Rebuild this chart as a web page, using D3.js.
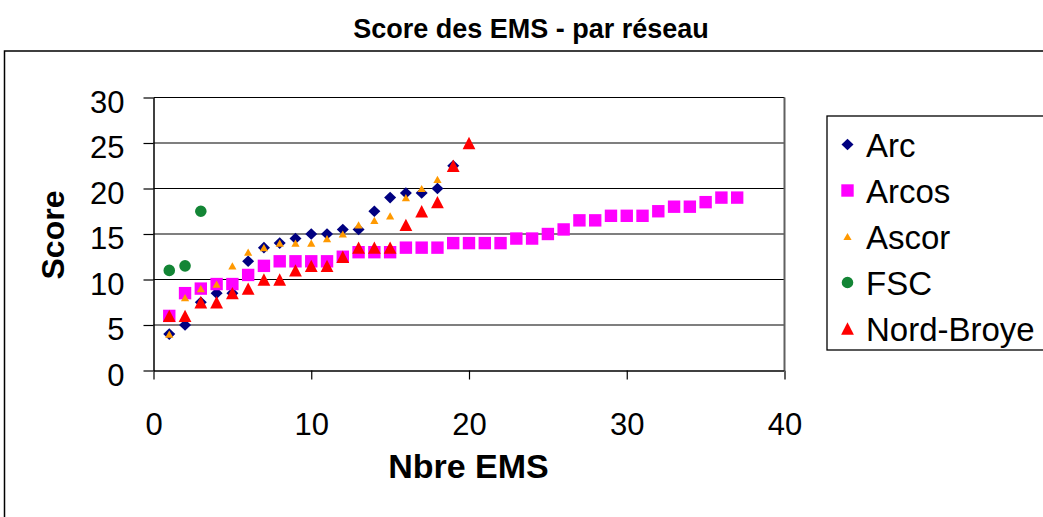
<!DOCTYPE html>
<html><head><meta charset="utf-8">
<script src="https://cdn.jsdelivr.net/npm/d3@7"></script>
<style>body{margin:0;background:#fff;} svg{display:block;}</style>
</head><body>
<svg id="c" width="1043" height="517"></svg>
<script>
// ---- data ----
const title = "Score des EMS - par réseau";
const xTitle = "Nbre EMS";
const yTitle = "Score";
const seriesNames = ["Arc", "Arcos", "Ascor", "FSC", "Nord-Broye"];
const arcScores = [4, 5, 7.5, 8.5, 8.5, 12, 13.5, 14, 14.5, 15, 15, 15.5, 15.5, 17.5, 19, 19.5, 19.5, 20, 22.5];
const arcosScores = [6, 8.5, 9, 9.5, 9.5, 10.5, 11.5, 12, 12, 12, 12, 12.5, 13, 13, 13, 13.5, 13.5, 13.5, 14, 14, 14, 14, 14.5, 14.5, 15, 15.5, 16.5, 16.5, 17, 17, 17, 17.5, 18, 18, 18.5, 19, 19];
const ascorScores = [4, 8, 9, 9.5, 11.5, 13, 13.5, 14, 14, 14, 14.5, 15, 16, 16.5, 17, 19, 20, 21];
const fscScores = [11, 11.5, 17.5];
const nordBroyeScores = [6, 6, 7.5, 7.5, 8.5, 9, 10, 10, 11, 11.5, 11.5, 12.5, 13.5, 13.5, 13.5, 16, 17.5, 18.5, 22.5, 25];
const xTicks = [0, 10, 20, 30, 40];
const yTicks = [0, 5, 10, 15, 20, 25, 30];

// ---- styles ----
const colors = ["#000080", "#FF00FF", "#FF9900", "#138535", "#FF0000"];
const shapes = ["diamond", "square", "smalltri", "circle", "tri"];
const FONT = "'Liberation Sans', Arial, sans-serif";

const seriesData = [arcScores, arcosScores, ascorScores, fscScores, nordBroyeScores];

function markerPath(shape) {
  switch (shape) {
    case "diamond": return "M0,-5.8L6,0L0,5.8L-6,0Z";
    case "square": return "M-6.2,-6.2H6.2V6.2H-6.2Z";
    case "smalltri": return "M0,-3.6L4.1,3.6H-4.1Z";
    case "tri": return "M0,-6.2L6.4,6.2H-6.4Z";
    case "circle": return d3.arc()({innerRadius: 0, outerRadius: 5.8, startAngle: 0, endAngle: 2 * Math.PI});
  }
}

const svg = d3.select("#c");

// outer chart border
svg.append("rect").attr("x", 4.5).attr("y", 51).attr("width", 1060).attr("height", 520)
  .attr("fill", "#fff").attr("stroke", "#000").attr("stroke-width", 1.5);

// title
svg.append("text").attr("x", 531).attr("y", 38).attr("text-anchor", "middle")
  .attr("font-family", FONT).attr("font-weight", "bold").attr("font-size", 27)
  .text(title);

const x = d3.scaleLinear().domain([0, 40]).range([153.5, 784.5]);
const y = d3.scaleLinear().domain([0, 30]).range([370.5, 97.5]);

// gridlines
svg.append("g").selectAll("line").data(yTicks.filter(t => t > 0)).join("line")
  .attr("x1", x(0)).attr("x2", x(40)).attr("y1", d => y(d)).attr("y2", d => y(d))
  .attr("stroke", "#000").attr("stroke-width", 1.2);

// right border of plot area
svg.append("line").attr("x1", x(40)).attr("x2", x(40)).attr("y1", y(30)).attr("y2", y(0))
  .attr("stroke", "#606060").attr("stroke-width", 2);

// axes
const gy = svg.append("g").attr("transform", `translate(${x(0)},0)`)
  .call(d3.axisLeft(y).tickValues(yTicks).tickSize(10).tickSizeOuter(0).tickPadding(19));
gy.select(".domain").attr("stroke", "#000").attr("stroke-width", 1.5);
gy.selectAll(".tick line").attr("stroke", "#000").attr("stroke-width", 1.2);
gy.selectAll(".tick text").attr("font-family", FONT).attr("font-size", 31)
  .attr("fill", "#000").attr("dy", "0.48em");

const gx = svg.append("g").attr("transform", `translate(0,${y(0)})`)
  .call(d3.axisBottom(x).tickValues(xTicks).tickSize(9).tickSizeOuter(0));
gx.select(".domain").attr("stroke", "#000").attr("stroke-width", 1.5);
gx.selectAll(".tick line").attr("stroke", (d) => d === 40 ? "#606060" : "#000").attr("stroke-width", (d) => d === 40 ? 2 : 1.2);
gx.selectAll(".tick text").attr("font-family", FONT).attr("font-size", 31)
  .attr("fill", "#000").attr("y", 64).attr("dy", 0);

// axis titles
svg.append("text").attr("x", 468.5).attr("y", 478).attr("text-anchor", "middle")
  .attr("font-family", FONT).attr("font-weight", "bold").attr("font-size", 34)
  .text(xTitle);
svg.append("text").attr("transform", "translate(64,235) rotate(-90)").attr("text-anchor", "middle")
  .attr("font-family", FONT).attr("font-weight", "bold").attr("font-size", 32)
  .text(yTitle);

// points
seriesData.forEach((vals, si) => {
  svg.append("g").selectAll("path").data(vals).join("path")
    .attr("d", markerPath(shapes[si]))
    .attr("transform", (d, i) => `translate(${x(i + 1)},${y(d)})`)
    .attr("fill", colors[si]);
});

// legend
const lg = svg.append("g");
lg.append("rect").attr("x", 827).attr("y", 116).attr("width", 260).attr("height", 234)
  .attr("fill", "#fff").attr("stroke", "#000").attr("stroke-width", 1.3);
const rowY = d3.scalePoint().domain(seriesNames).range([156.5, 340.5]);
seriesNames.forEach((name, si) => {
  lg.append("path").attr("d", markerPath(shapes[si]))
    .attr("transform", `translate(847.5,${rowY(name) - 12})`)
    .attr("fill", colors[si]);
  lg.append("text").attr("x", 866).attr("y", rowY(name))
    .attr("font-family", FONT).attr("font-size", 33).attr("fill", "#000").text(name);
});
</script>
</body></html>
